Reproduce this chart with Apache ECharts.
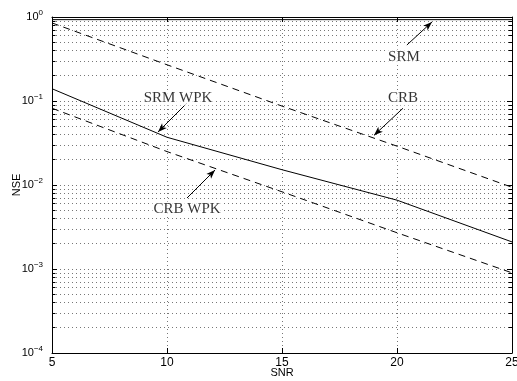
<!DOCTYPE html>
<html>
<head>
<meta charset="utf-8">
<script src="https://cdn.jsdelivr.net/npm/echarts@6/dist/echarts.min.js"></script>
<style>
html, body { margin: 0; padding: 0; background: #fff; }
#chart { width: 517px; height: 381px; }
</style>
</head>
<body>
<div id="chart"></div>
<script>
var snr = [5, 10, 15, 20, 25];
var srm = [0.93, 0.93, 0.93, 0.93, 0.93];
var crb = [0.85, 0.27, 0.087, 0.029, 0.0094];
var srmWpk = [0.14, 0.037, 0.0152, 0.0066, 0.0021];
var crbWpk = [0.082, 0.025, 0.0083, 0.0027, 0.0009];

// annotation texts and arrows, in data units
var noteNames = ['SRM', 'CRB', 'SRM WPK', 'CRB WPK'];
var notePos = [[20.3, 0.334], [20.26, 0.1086], [10.48, 0.1086], [10.87, 0.00518]];
var arrowFrom = [[20.43, 0.464], [20.26, 0.082], [10.87, 0.0946], [10.87, 0.0070]];
var arrowTo = [[21.52, 0.872], [19.0, 0.039], [9.61, 0.0428], [12.09, 0.0151]];

var sans = 'Liberation Sans';
var serif = 'Liberation Serif';

function pairs(ys) {
    return snr.map(function (x, i) { return [x, ys[i]]; });
}

// minor log positions 2..9 in each decade
var minorVals = [];
for (var e = -4; e < 0; e++) {
    for (var m = 2; m <= 9; m++) minorVals.push(m * Math.pow(10, e));
}

var minorGrid = minorVals.map(function (v) {
    return [{ coord: [5, v] }, { coord: [25, v] }];
});
var minorTicks = [];
minorVals.forEach(function (v) {
    minorTicks.push([{ coord: [5, v] }, { coord: [5.15, v] }]);
    minorTicks.push([{ coord: [24.85, v] }, { coord: [25, v] }]);
});

var arrows = arrowFrom.map(function (p, i) {
    return [{ coord: p }, { coord: arrowTo[i] }];
});

function curve(name, ys, dashed) {
    return {
        name: name,
        type: 'line',
        data: pairs(ys),
        showSymbol: false,
        lineStyle: { color: '#000', width: 1, type: dashed ? [7, 5] : 'solid' },
        z: 5
    };
}

var chart = echarts.init(document.getElementById('chart'));

var axisLine = { show: true, onZero: false, lineStyle: { color: '#000', width: 1 } };
var gridLine = { show: true, lineStyle: { color: '#777', width: 1, type: [1, 3] } };

var option = {
    animation: false,
    backgroundColor: '#fff',
    grid: { left: 52, right: 5, top: 17, bottom: 28, containLabel: false, outerBoundsMode: 'none' },
    xAxis: [{
        type: 'value', min: 5, max: 25, interval: 5, position: 'bottom',
        name: 'SNR', nameLocation: 'middle', nameGap: 14, nameMoveOverlap: false,
        nameTextStyle: { fontFamily: sans, fontSize: 11, color: '#000' },
        axisLine: axisLine,
        axisTick: { inside: true, length: 5, lineStyle: { color: '#000' } },
        axisLabel: { fontFamily: sans, fontSize: 12, color: '#000', margin: 4 },
        splitLine: gridLine
    }, {
        type: 'value', min: 5, max: 25, interval: 5, position: 'top',
        axisLine: axisLine,
        axisTick: { inside: true, length: 5, lineStyle: { color: '#000' } },
        axisLabel: { show: false },
        splitLine: { show: false }
    }],
    yAxis: [{
        type: 'log', logBase: 10, min: 1e-4, max: 1, position: 'left',
        name: 'NSE', nameLocation: 'middle', nameGap: 30, nameMoveOverlap: false,
        nameTextStyle: { fontFamily: sans, fontSize: 11, color: '#000' },
        axisLine: axisLine,
        axisTick: { inside: true, length: 5, lineStyle: { color: '#000' } },
        axisLabel: {
            margin: 9,
            formatter: function (v) {
                var p = Math.round(Math.log10(v));
                return '{b|10}{e|' + (p < 0 ? '\u2212' + (-p) : p) + '}';
            },
            rich: {
                b: { fontFamily: sans, fontSize: 11, color: '#000' },
                e: { fontFamily: sans, fontSize: 8, color: '#000', padding: [0, 0, 9, 0] }
            }
        },
        splitLine: gridLine
    }, {
        type: 'log', logBase: 10, min: 1e-4, max: 1, position: 'right',
        axisLine: axisLine,
        axisTick: { inside: true, length: 5, lineStyle: { color: '#000' } },
        axisLabel: { show: false },
        splitLine: { show: false }
    }],
    series: [
        curve('SRM', srm, false),
        curve('CRB', crb, true),
        curve('SRM WPK', srmWpk, false),
        curve('CRB WPK', crbWpk, true),
        {
            type: 'line', data: [], silent: true,
            markLine: {
                silent: true, symbol: 'none', label: { show: false },
                lineStyle: { color: '#777', width: 1, type: [1, 3] },
                data: minorGrid
            }
        },
        {
            type: 'line', data: [], silent: true,
            markLine: {
                silent: true, symbol: 'none', label: { show: false },
                lineStyle: { color: '#000', width: 1, type: 'solid' },
                data: minorTicks
            }
        },
        {
            type: 'line', data: [], silent: true, z: 6,
            markLine: {
                silent: true, symbol: ['none', 'arrow'], symbolSize: [5, 9],
                label: { show: false },
                lineStyle: { color: '#000', width: 1, type: 'solid' },
                data: arrows
            }
        },
        {
            type: 'scatter', symbolSize: 0, silent: true, z: 7,
            data: notePos.map(function (p, i) { return { name: noteNames[i], value: p }; }),
            label: {
                show: true, position: 'inside',
                formatter: function (d) { return d.name; },
                fontFamily: serif, fontSize: 15, color: '#000',
                backgroundColor: '#fff', padding: [0, 1]
            }
        }
    ]
};

chart.setOption(option);
</script>
</body>
</html>
